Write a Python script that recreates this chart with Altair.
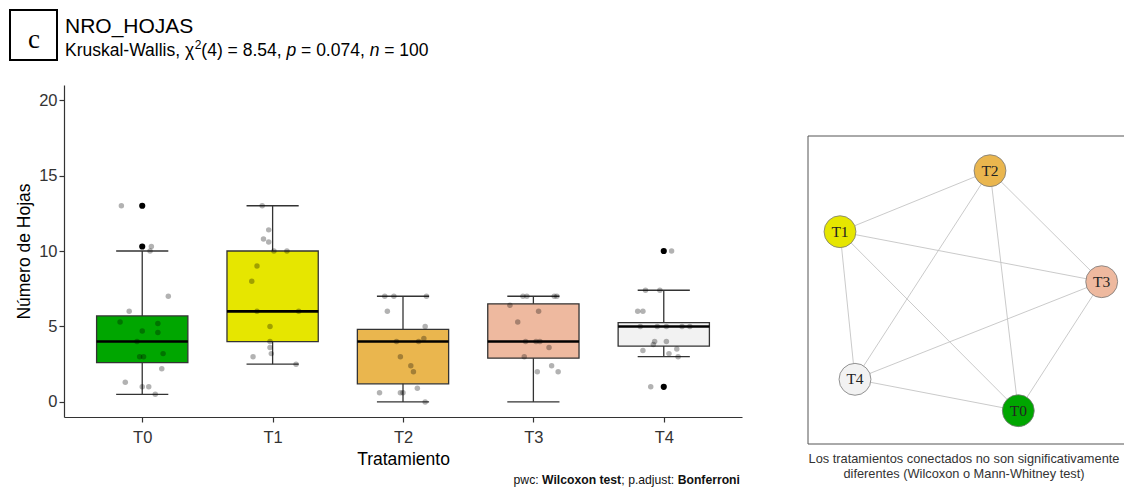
import itertools
import altair as alt
import pandas as pd

# ---------------- data ----------------
TRT = ["T0", "T1", "T2", "T3", "T4"]
COLORS = ["#00A600", "#E6E600", "#EAB64E", "#EEB99F", "#F2F2F2"]

WHISK_LO = [0.5, 2.5, 0.0, 0.0, 3.0]
Q1 = [2.6, 4.0, 1.2, 2.9, 3.7]
MED = [4.0, 6.0, 4.0, 4.0, 5.0]
Q3 = [5.7, 10.0, 4.8, 6.5, 5.25]
WHISK_HI = [10.0, 13.0, 7.0, 7.0, 7.4]

OUT_TRT = ["T0", "T0", "T4", "T4"]
OUT_VAL = [13.0, 10.3, 10.0, 1.0]

PTS_T0 = [13.0, 10.3, 10.0, 7.0, 6.0, 5.3, 5.2, 4.7, 4.6, 4.0, 3.2, 3.0, 3.0, 2.2, 1.3, 1.0, 1.0, 0.5]
JIT_T0 = [-0.16, 0.07, 0.06, 0.2, -0.1, -0.17, 0.12, 0.0, 0.12, -0.04, 0.16, -0.02, 0.01, 0.15, -0.13, 0.0, 0.05, 0.1]
PTS_T1 = [13.0, 11.4, 10.8, 10.6, 10.0, 10.0, 9.0, 8.0, 6.0, 6.0, 5.0, 4.0, 3.6, 3.2, 3.0, 2.5]
JIT_T1 = [-0.08, -0.03, -0.07, -0.03, 0.01, 0.11, -0.12, -0.16, -0.12, 0.2, -0.02, -0.02, -0.02, -0.01, -0.15, 0.18]
PTS_T2 = [7.0, 7.0, 7.0, 6.0, 5.0, 4.2, 4.0, 4.0, 3.0, 2.4, 2.0, 0.6, 0.6, 0.6, 0.9, 0.0]
JIT_T2 = [-0.14, -0.07, 0.18, -0.12, 0.17, 0.16, -0.05, 0.12, -0.02, 0.06, 0.08, -0.18, -0.02, 0.0, 0.11, 0.17]
PTS_T3 = [7.0, 7.0, 7.0, 7.0, 6.4, 6.0, 5.3, 4.0, 4.0, 4.0, 3.6, 3.0, 2.4, 2.0, 2.0]
JIT_T3 = [-0.08, -0.05, 0.16, 0.18, -0.18, 0.04, -0.12, -0.06, 0.02, 0.05, 0.12, -0.07, 0.14, 0.03, 0.19]
PTS_T4 = [10.0, 1.0, 7.4, 7.4, 6.0, 6.0, 5.0, 5.0, 5.0, 5.0, 5.0, 4.0, 4.0, 3.8, 3.5, 3.4, 3.2, 3.0]
JIT_T4 = [0.06, -0.1, -0.14, -0.03, -0.2, -0.16, -0.18, -0.05, 0.02, 0.14, 0.2, -0.07, 0.02, -0.08, 0.1, -0.16, 0.04, 0.11]

# network layout (layout units)
NODE = ["T0", "T1", "T2", "T3", "T4"]
NODE_X = [210.3, 32.0, 182.0, 293.7, 47.0]
NODE_Y = [274.7, 95.7, 34.7, 145.7, 243.3]

TITLE = "NRO_HOJAS"
Y_TITLE = "Número de Hojas"
X_TITLE = "Tratamiento"
NET_CAPTION = ["Los tratamientos conectados no son significativamente",
               "diferentes (Wilcoxon o Mann-Whitney test)"]

# ---------------- tables ----------------
box_df = pd.DataFrame(dict(trt=TRT, i=list(range(len(TRT))), lo=WHISK_LO,
                           q1=Q1, med=MED, q3=Q3, hi=WHISK_HI))
out_df = pd.DataFrame(dict(trt=OUT_TRT, v=OUT_VAL))
out_df["i"] = [TRT.index(t) for t in OUT_TRT]

rows = []
for t, vals, jits in zip(TRT, [PTS_T0, PTS_T1, PTS_T2, PTS_T3, PTS_T4],
                         [JIT_T0, JIT_T1, JIT_T2, JIT_T3, JIT_T4]):
    for v, j in zip(vals, jits):
        rows.append(dict(trt=t, i=TRT.index(t), v=v, jit=j))
pts_df = pd.DataFrame(rows)

node_df = pd.DataFrame(dict(trt=NODE, nx=NODE_X, ny=NODE_Y))
edge_rows = []
for a, b in itertools.combinations(range(len(NODE)), 2):
    edge_rows.append(dict(x1=NODE_X[a], y1=NODE_Y[a], x2=NODE_X[b], y2=NODE_Y[b]))
edge_df = pd.DataFrame(edge_rows)

one = pd.DataFrame({"k": [0]})

# ---------------- layout constants ----------------
W, H = 678, 332
PAD_L, PAD_T = 56, 77
TOTAL_W, TOTAL_H = 1116, 480
FONT = "Liberation Sans"
SERIF = "Liberation Serif"

XS = alt.Scale(domain=[-0.6, len(TRT) - 0.4], nice=False, zero=False)
YS = alt.Scale(domain=[-1, 21], nice=False, zero=False)
label_expr = "[" + ",".join("'%s'" % t for t in TRT) + "][datum.value]"
XA = alt.Axis(values=list(range(len(TRT))), labelExpr=label_expr, grid=False,
              tickSize=5, labelPadding=7, titlePadding=5, labelFontSize=16.5,
              titleFontSize=17.5)
YA = alt.Axis(values=[0, 5, 10, 15, 20], grid=False, tickSize=5, labelPadding=2,
              titlePadding=5, labelFontSize=16.5, titleFontSize=17.5)


def xenc(f):
    return alt.X(f, type="quantitative", scale=XS, axis=XA, title=X_TITLE)


def yenc(f):
    return alt.Y(f, type="quantitative", scale=YS, axis=YA, title=Y_TITLE)


COL = alt.Color("trt:N", scale=alt.Scale(domain=TRT, range=COLORS), legend=None)

base = alt.Chart(box_df).transform_calculate(
    bx0="datum.i - 0.35", bx1="datum.i + 0.35",
    cx0="datum.i - 0.2", cx1="datum.i + 0.2")

whisk = base.mark_rule(color="#333333", strokeWidth=1.3).encode(
    x=xenc("i"), y=yenc("lo"), y2="hi:Q")
cap_lo = base.mark_rule(color="#333333", strokeWidth=1.3).encode(
    x=xenc("cx0"), x2="cx1:Q", y=yenc("lo"))
cap_hi = base.mark_rule(color="#333333", strokeWidth=1.3).encode(
    x=xenc("cx0"), x2="cx1:Q", y=yenc("hi"))
box = base.mark_bar(stroke="#333333", strokeWidth=1.3, opacity=1).encode(
    x=xenc("bx0"), x2="bx1:Q", y=yenc("q1"), y2="q3:Q", color=COL)
med = base.mark_rule(color="black", strokeWidth=2.6).encode(
    x=xenc("bx0"), x2="bx1:Q", y=yenc("med"))
outl = alt.Chart(out_df).mark_circle(color="black", size=38, opacity=1).encode(
    x=xenc("i"), y=yenc("v"))
pts = alt.Chart(pts_df).transform_calculate(xj="datum.i + datum.jit").mark_circle(
    color="black", opacity=0.3, size=30).encode(x=xenc("xj"), y=yenc("v"))

# ---------------- annotations (plot-relative pixels) ----------------
ARIAL = {" ": 278, "(": 333, ")": 333, ",": 278, "-": 333, ".": 278, ":": 278, ";": 278,
         "=": 584, "K": 667, "W": 944, "a": 556, "c": 500, "d": 556, "e": 556, "f": 278,
         "i": 222, "j": 222, "k": 500, "l": 222, "n": 556, "o": 556, "p": 556, "r": 333,
         "s": 500, "t": 278, "u": 556, "w": 722, "x": 500, "χ": 520}
for d in "0123456789":
    ARIAL[d] = 556
ARIAL_B = {" ": 278, "B": 722, "W": 944, "c": 556, "e": 556, "f": 333, "i": 278, "l": 278,
           "n": 611, "o": 611, "r": 389, "s": 556, "t": 333, "x": 556}


def text_w(s, size, bold=False):
    tab = ARIAL_B if bold else ARIAL
    return sum(tab.get(ch, 556) for ch in s) * size / 1000.0


def seg_layers(segs, x0, y, color):
    layers = []
    x = x0
    for s, size, style, weight, dy in segs:
        bold = weight == "bold"
        lead = len(s) - len(s.lstrip(" "))
        xs = x + text_w(" " * lead, size, bold)
        layers.append(alt.Chart(one).mark_text(
            text=s.strip(" "), font=FONT, fontSize=size, fontStyle=style, fontWeight=weight,
            align="left", baseline="alphabetic", color=color, dy=dy).encode(
            x=alt.value(xs), y=alt.value(y)))
        x += text_w(s, size, bold)
    return layers


SUB = 17.5
sub_segs = [("Kruskal-Wallis, χ", SUB, "normal", "normal", 0),
            ("2", 12, "normal", "normal", -7),
            ("(4) = 8.54, ", SUB, "normal", "normal", 0),
            ("p", SUB, "italic", "normal", 0),
            (" = 0.074, ", SUB, "normal", "normal", 0),
            ("n", SUB, "italic", "normal", 0),
            (" = 100", SUB, "normal", "normal", 0)]
sub_layers = seg_layers(sub_segs, 1, -29, "black")

CAP = 12.2
cap_segs = [("pwc: ", CAP, "normal", "normal", 0),
            ("Wilcoxon test", CAP, "normal", "bold", 0),
            ("; p.adjust: ", CAP, "normal", "normal", 0),
            ("Bonferroni", CAP, "normal", "bold", 0)]
cap_total = sum(text_w(s, sz, w == "bold") for s, sz, _, w, _ in cap_segs)
cap_layers = seg_layers(cap_segs, W - 2 - cap_total, 399, "#111111")

title_l = alt.Chart(one).mark_text(text=TITLE, font=FONT, fontSize=21, align="left",
                                   baseline="alphabetic", color="black").encode(
    x=alt.value(1), y=alt.value(-52))
cbox = alt.Chart(one).mark_rect(fill="white", stroke="black", strokeWidth=2).encode(
    x=alt.value(-54), x2=alt.value(-7), y=alt.value(-75), y2=alt.value(-25))
ctext = alt.Chart(one).mark_text(text="c", font=SERIF, fontSize=27, align="center",
                                 baseline="alphabetic", color="black").encode(
    x=alt.value(-30), y=alt.value(-37))

box_group = alt.layer(whisk, cap_lo, cap_hi, box, med, outl, pts,
                      title_l, cbox, ctext, *sub_layers, *cap_layers)

# ---------------- network ----------------
NXS = alt.Scale(domain=[0, 324], range=[744, 1068], nice=False, zero=False)
NYS = alt.Scale(domain=[0, 308], range=[51, 359], nice=False, zero=False)

frame = alt.Chart(one).mark_rect(fill="white", stroke="#555555", strokeWidth=1).encode(
    x=alt.value(744), x2=alt.value(1075), y=alt.value(51), y2=alt.value(359))
edges = alt.Chart(edge_df).mark_rule(color="#c4c4c4", strokeWidth=0.9).encode(
    x=alt.X("x1:Q", scale=NXS, axis=None), x2="x2:Q",
    y=alt.Y("y1:Q", scale=NYS, axis=None), y2="y2:Q")
nodes = alt.Chart(node_df).mark_circle(size=1018, stroke="#777777", strokeWidth=0.8,
                                       opacity=1).encode(
    x=alt.X("nx:Q", scale=NXS, axis=None), y=alt.Y("ny:Q", scale=NYS, axis=None), color=COL)
nlabels = alt.Chart(node_df).mark_text(font=SERIF, fontSize=15.5, color="#222222",
                                       baseline="middle", align="center").encode(
    x=alt.X("nx:Q", scale=NXS, axis=None), y=alt.Y("ny:Q", scale=NYS, axis=None), text="trt:N")
ncap = [alt.Chart(one).mark_text(text=line, font=FONT, fontSize=12.8, align="center",
                                 baseline="alphabetic", color="#333333").encode(
    x=alt.value(900), y=alt.value(yy)) for line, yy in zip(NET_CAPTION, [378, 393])]

net_group = alt.layer(frame, edges, nodes, nlabels, *ncap)

chart = alt.layer(box_group, net_group).resolve_scale(
    x="independent", y="independent").properties(
    width=W, height=H,
    padding={"left": PAD_L, "top": PAD_T, "right": TOTAL_W - PAD_L - W,
             "bottom": TOTAL_H - PAD_T - H},
    autosize=alt.AutoSizeParams(type="none"),
    background="white",
).configure_view(stroke=None).configure_axis(
    domainColor="#333333", domainWidth=1.2, tickColor="#333333", tickWidth=1.2,
    labelColor="#333333", titleColor="black", labelFont=FONT, titleFont=FONT,
    titleFontWeight="normal").configure_text(font=FONT)

chart.save("out.html", embed_options={"renderer": "svg", "actions": False})
